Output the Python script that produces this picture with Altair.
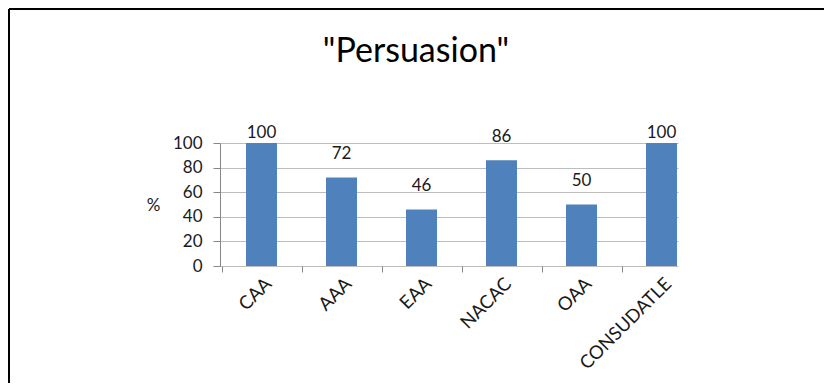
import altair as alt
import pandas as pd

categories = ["CAA", "AAA", "EAA", "NACAC", "OAA", "CONSUDATLE"]
values = [100, 72, 46, 86, 50, 100]
title_text = '"Persuasion"'
y_ticks = [0, 20, 40, 60, 80, 100]

df = pd.DataFrame({"cat": categories, "value": values})
one = pd.DataFrame({"t": [title_text]})

FONT = "Lato"
TXT = "#1a1a1a"

xscale = alt.Scale(domain=categories, paddingInner=0.6125, paddingOuter=0.16875, align=0.963)
yscale = alt.Scale(domain=[0, 100], nice=False)

x_axis = alt.Axis(title=None, labelAngle=-45, domain=False, grid=False,
                  tickOffset=-40, labelOffset=40, tickSize=6,
                  tickColor="#868686", labelFont=FONT, labelFontSize=18.5,
                  labelColor=TXT, labelPadding=2, labelOverlap=False)
y_axis = alt.Axis(values=y_ticks, title="%", titleAngle=0, titleX=-67, titleY=62,
                  titleAlign="center", titleBaseline="middle", titleFont=FONT,
                  titleFontSize=17, titleFontWeight="normal", titleColor=TXT,
                  labelFont=FONT, labelFontSize=17, labelColor=TXT, labelOverlap=False,
                  labelPadding=11, tickSize=7, tickColor="#868686",
                  domainColor="#868686", gridColor="#BDBDBD", gridWidth=1.2)

bars = alt.Chart(df).mark_bar(color="#4F81BD").encode(
    x=alt.X("cat:N", sort=categories, scale=xscale, axis=x_axis),
    y=alt.Y("value:Q", scale=yscale, axis=y_axis),
)

labels = alt.Chart(df).transform_calculate(
    ly="min(datum.value + 19, 108)"
).mark_text(font=FONT, fontSize=17, color=TXT, baseline="middle").encode(
    x=alt.X("cat:N", sort=categories, scale=xscale, axis=x_axis),
    y=alt.Y("ly:Q", scale=yscale, axis=y_axis),
    text=alt.Text("value:Q"),
)

title = alt.Chart(one).mark_text(font=FONT, fontSize=34, color="#000000",
                                 baseline="alphabetic", align="center").encode(
    x=alt.value(196), y=alt.value(-81), text="t:N")

frame_top = alt.Chart(one).mark_rule(color="black", strokeWidth=2).encode(
    x=alt.value(-211), x2=alt.value(604), y=alt.value(-134))
frame_left = alt.Chart(one).mark_rule(color="black", strokeWidth=2).encode(
    x=alt.value(-211), y=alt.value(-134), y2=alt.value(245))

chart = alt.layer(bars, labels, title, frame_top, frame_left).properties(
    width=458, height=123, autosize="none",
    padding={"left": 212, "top": 135, "right": 146, "bottom": 117},
    background="white",
).configure_view(stroke=None)

chart.save("out.html", embed_options={"renderer": "svg", "actions": False})
